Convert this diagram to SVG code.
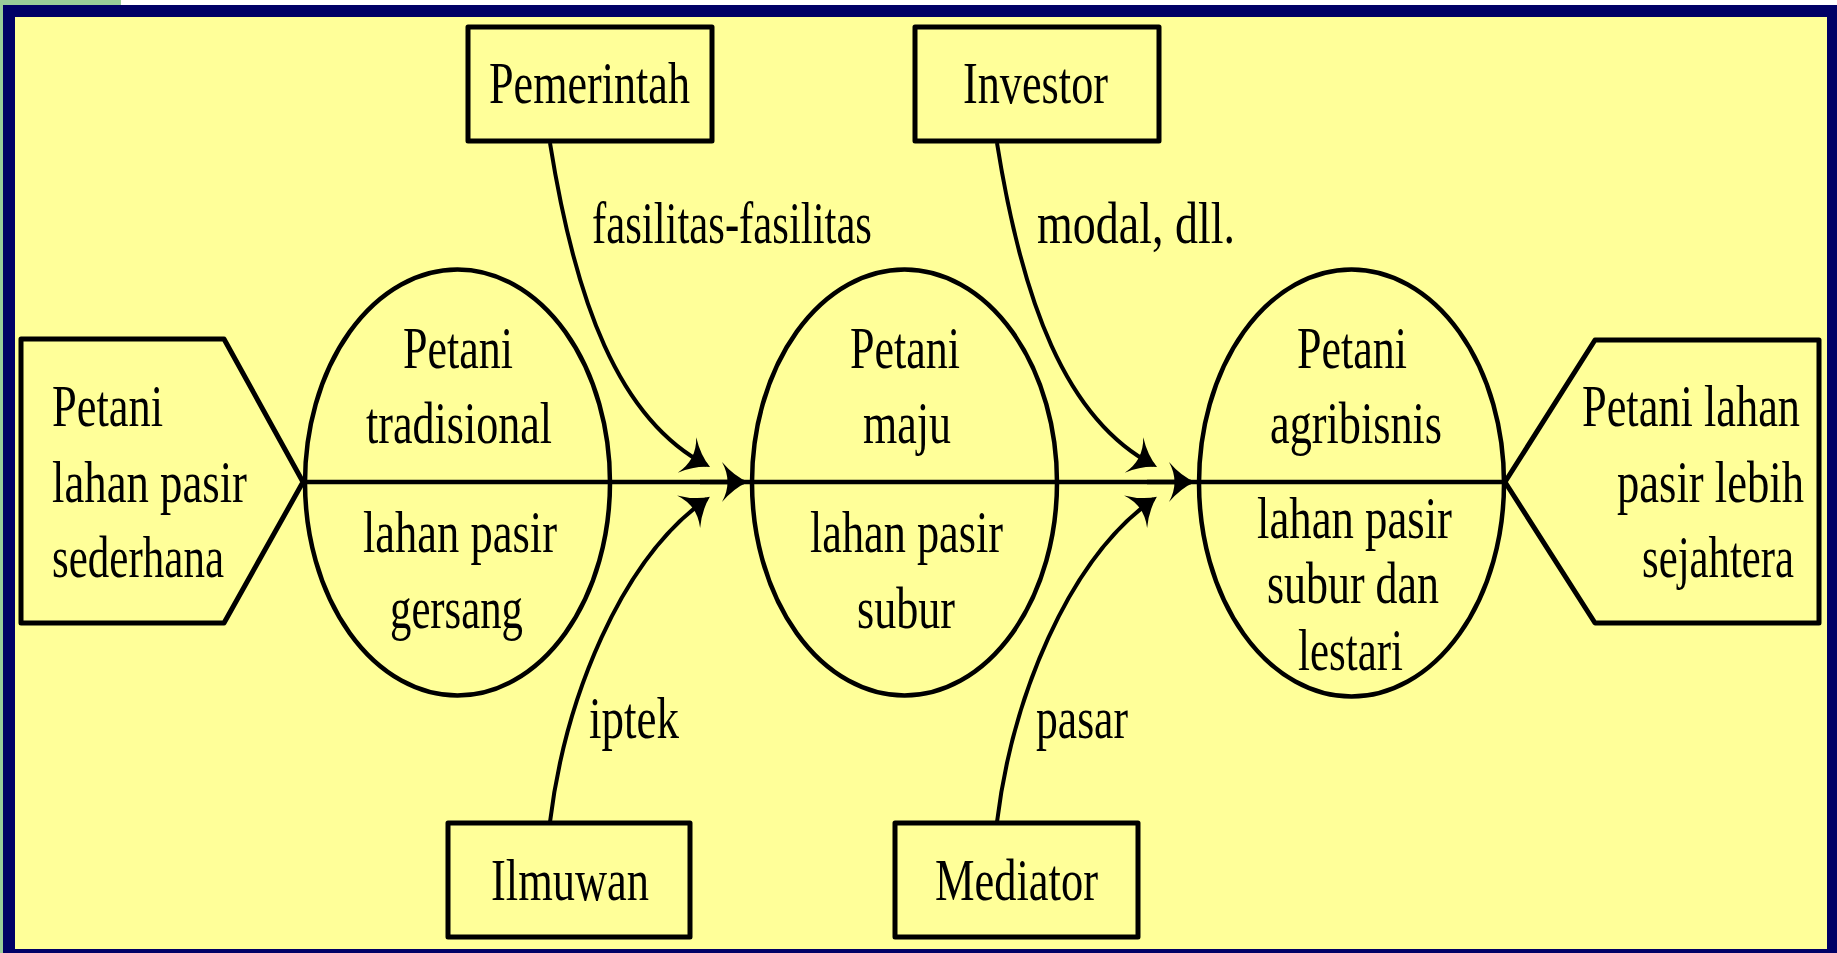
<svg xmlns="http://www.w3.org/2000/svg" width="1837" height="953" viewBox="0 0 1837 953">
<defs>
<style>
.t{font-family:"Liberation Serif","Times New Roman",serif;font-size:60px;fill:#000;}
.box{fill:#FFFF99;stroke:#000;stroke-width:5;stroke-linejoin:round;}
.ell{fill:#FFFF99;stroke:#000;stroke-width:4.5;}
.main{fill:none;stroke:#000;stroke-width:4.5;}
.curve{fill:none;stroke:#000;stroke-width:4;}
</style>
<marker id="ah" markerUnits="userSpaceOnUse" viewBox="-30 -25 40 50" refX="0" refY="0" markerWidth="40" markerHeight="50" orient="auto" overflow="visible">
<path d="M4,0 Q-10,-6 -22,-20 Q-11,0 -22,20 Q-10,6 4,0 Z" fill="#000"/>
</marker>
</defs>
<rect x="0" y="0" width="1837" height="953" fill="#FFFFFF"/>
<rect x="0" y="0" width="121" height="5" fill="#99CC99"/>
<rect x="0" y="0" width="3" height="953" fill="#99CC99"/>
<rect x="3" y="5" width="1834" height="948" fill="#000066"/>
<rect x="15" y="17" width="1812" height="932" fill="#FFFF99"/>

<g id="connectors">
<path class="main" d="M303,482 H1505"/>
<path class="main" d="M700,482 H744" marker-end="url(#ah)"/>
<path class="main" d="M1147,482 H1191" marker-end="url(#ah)"/>
<path class="curve" d="M550,143 C575,300 618,419 706.5,465.1" marker-end="url(#ah)"/>
<path class="curve" d="M997,143 C1022,300 1065,419 1153.5,465.1" marker-end="url(#ah)"/>
<path class="curve" d="M550,822 C565,700 620,560 706.6,499.1" marker-end="url(#ah)"/>
<path class="curve" d="M997,822 C1012,700 1067,560 1153.6,499.1" marker-end="url(#ah)"/>
<text class="t" x="592" y="243" textLength="280" lengthAdjust="spacingAndGlyphs">fasilitas-fasilitas</text>
<text class="t" x="1037" y="243" textLength="198" lengthAdjust="spacingAndGlyphs">modal, dll.</text>
<text class="t" x="589" y="738" textLength="90" lengthAdjust="spacingAndGlyphs">iptek</text>
<text class="t" x="1036" y="738" textLength="92" lengthAdjust="spacingAndGlyphs">pasar</text>
</g>

<g id="start">
<polygon class="box" points="21,339 224,339 303,482 224,623 21,623"/>
<text class="t" x="52" y="426" textLength="111" lengthAdjust="spacingAndGlyphs">Petani</text>
<text class="t" x="52" y="502" textLength="195" lengthAdjust="spacingAndGlyphs">lahan pasir</text>
<text class="t" x="52" y="577" textLength="172" lengthAdjust="spacingAndGlyphs">sederhana</text>
</g>

<g id="end">
<polygon class="box" points="1505,482 1595,340 1819,340 1819,623 1595,623"/>
<text class="t" x="1582" y="426" textLength="218" lengthAdjust="spacingAndGlyphs">Petani lahan</text>
<text class="t" x="1617" y="502" textLength="187" lengthAdjust="spacingAndGlyphs">pasir lebih</text>
<text class="t" x="1642" y="577" textLength="152" lengthAdjust="spacingAndGlyphs">sejahtera</text>
</g>

<g id="petani-tradisional">
<ellipse class="ell" cx="457.5" cy="482.5" rx="152.5" ry="213"/>
<line class="main" x1="305" y1="482" x2="610" y2="482"/>
<text class="t" x="403" y="368" textLength="110" lengthAdjust="spacingAndGlyphs">Petani</text>
<text class="t" x="366" y="443" textLength="186" lengthAdjust="spacingAndGlyphs">tradisional</text>
<text class="t" x="363" y="552" textLength="194" lengthAdjust="spacingAndGlyphs">lahan pasir</text>
<text class="t" x="390" y="628" textLength="133" lengthAdjust="spacingAndGlyphs">gersang</text>
</g>

<g id="petani-maju">
<ellipse class="ell" cx="904.5" cy="482.5" rx="152.5" ry="213"/>
<line class="main" x1="752" y1="482" x2="1057" y2="482"/>
<text class="t" x="850" y="368" textLength="110" lengthAdjust="spacingAndGlyphs">Petani</text>
<text class="t" x="863" y="443" textLength="88" lengthAdjust="spacingAndGlyphs">maju</text>
<text class="t" x="810" y="552" textLength="193" lengthAdjust="spacingAndGlyphs">lahan pasir</text>
<text class="t" x="857" y="628" textLength="98" lengthAdjust="spacingAndGlyphs">subur</text>
</g>

<g id="petani-agribisnis">
<ellipse class="ell" cx="1351.5" cy="483" rx="152.5" ry="213.5"/>
<line class="main" x1="1199" y1="482" x2="1504" y2="482"/>
<text class="t" x="1297" y="368" textLength="110" lengthAdjust="spacingAndGlyphs">Petani</text>
<text class="t" x="1270" y="443" textLength="172" lengthAdjust="spacingAndGlyphs">agribisnis</text>
<text class="t" x="1257" y="538" textLength="195" lengthAdjust="spacingAndGlyphs">lahan pasir</text>
<text class="t" x="1267" y="603" textLength="172" lengthAdjust="spacingAndGlyphs">subur dan</text>
<text class="t" x="1298" y="670" textLength="105" lengthAdjust="spacingAndGlyphs">lestari</text>
</g>

<g id="pemerintah">
<rect class="box" x="468" y="27" width="244" height="114"/>
<text class="t" x="489" y="103" textLength="201" lengthAdjust="spacingAndGlyphs">Pemerintah</text>
</g>

<g id="investor">
<rect class="box" x="915" y="27" width="244" height="114"/>
<text class="t" x="963" y="103" textLength="145" lengthAdjust="spacingAndGlyphs">Investor</text>
</g>

<g id="ilmuwan">
<rect class="box" x="448" y="823" width="242" height="114"/>
<text class="t" x="491" y="900" textLength="158" lengthAdjust="spacingAndGlyphs">Ilmuwan</text>
</g>

<g id="mediator">
<rect class="box" x="895" y="823" width="243" height="114"/>
<text class="t" x="935" y="900" textLength="163" lengthAdjust="spacingAndGlyphs">Mediator</text>
</g>
</svg>
